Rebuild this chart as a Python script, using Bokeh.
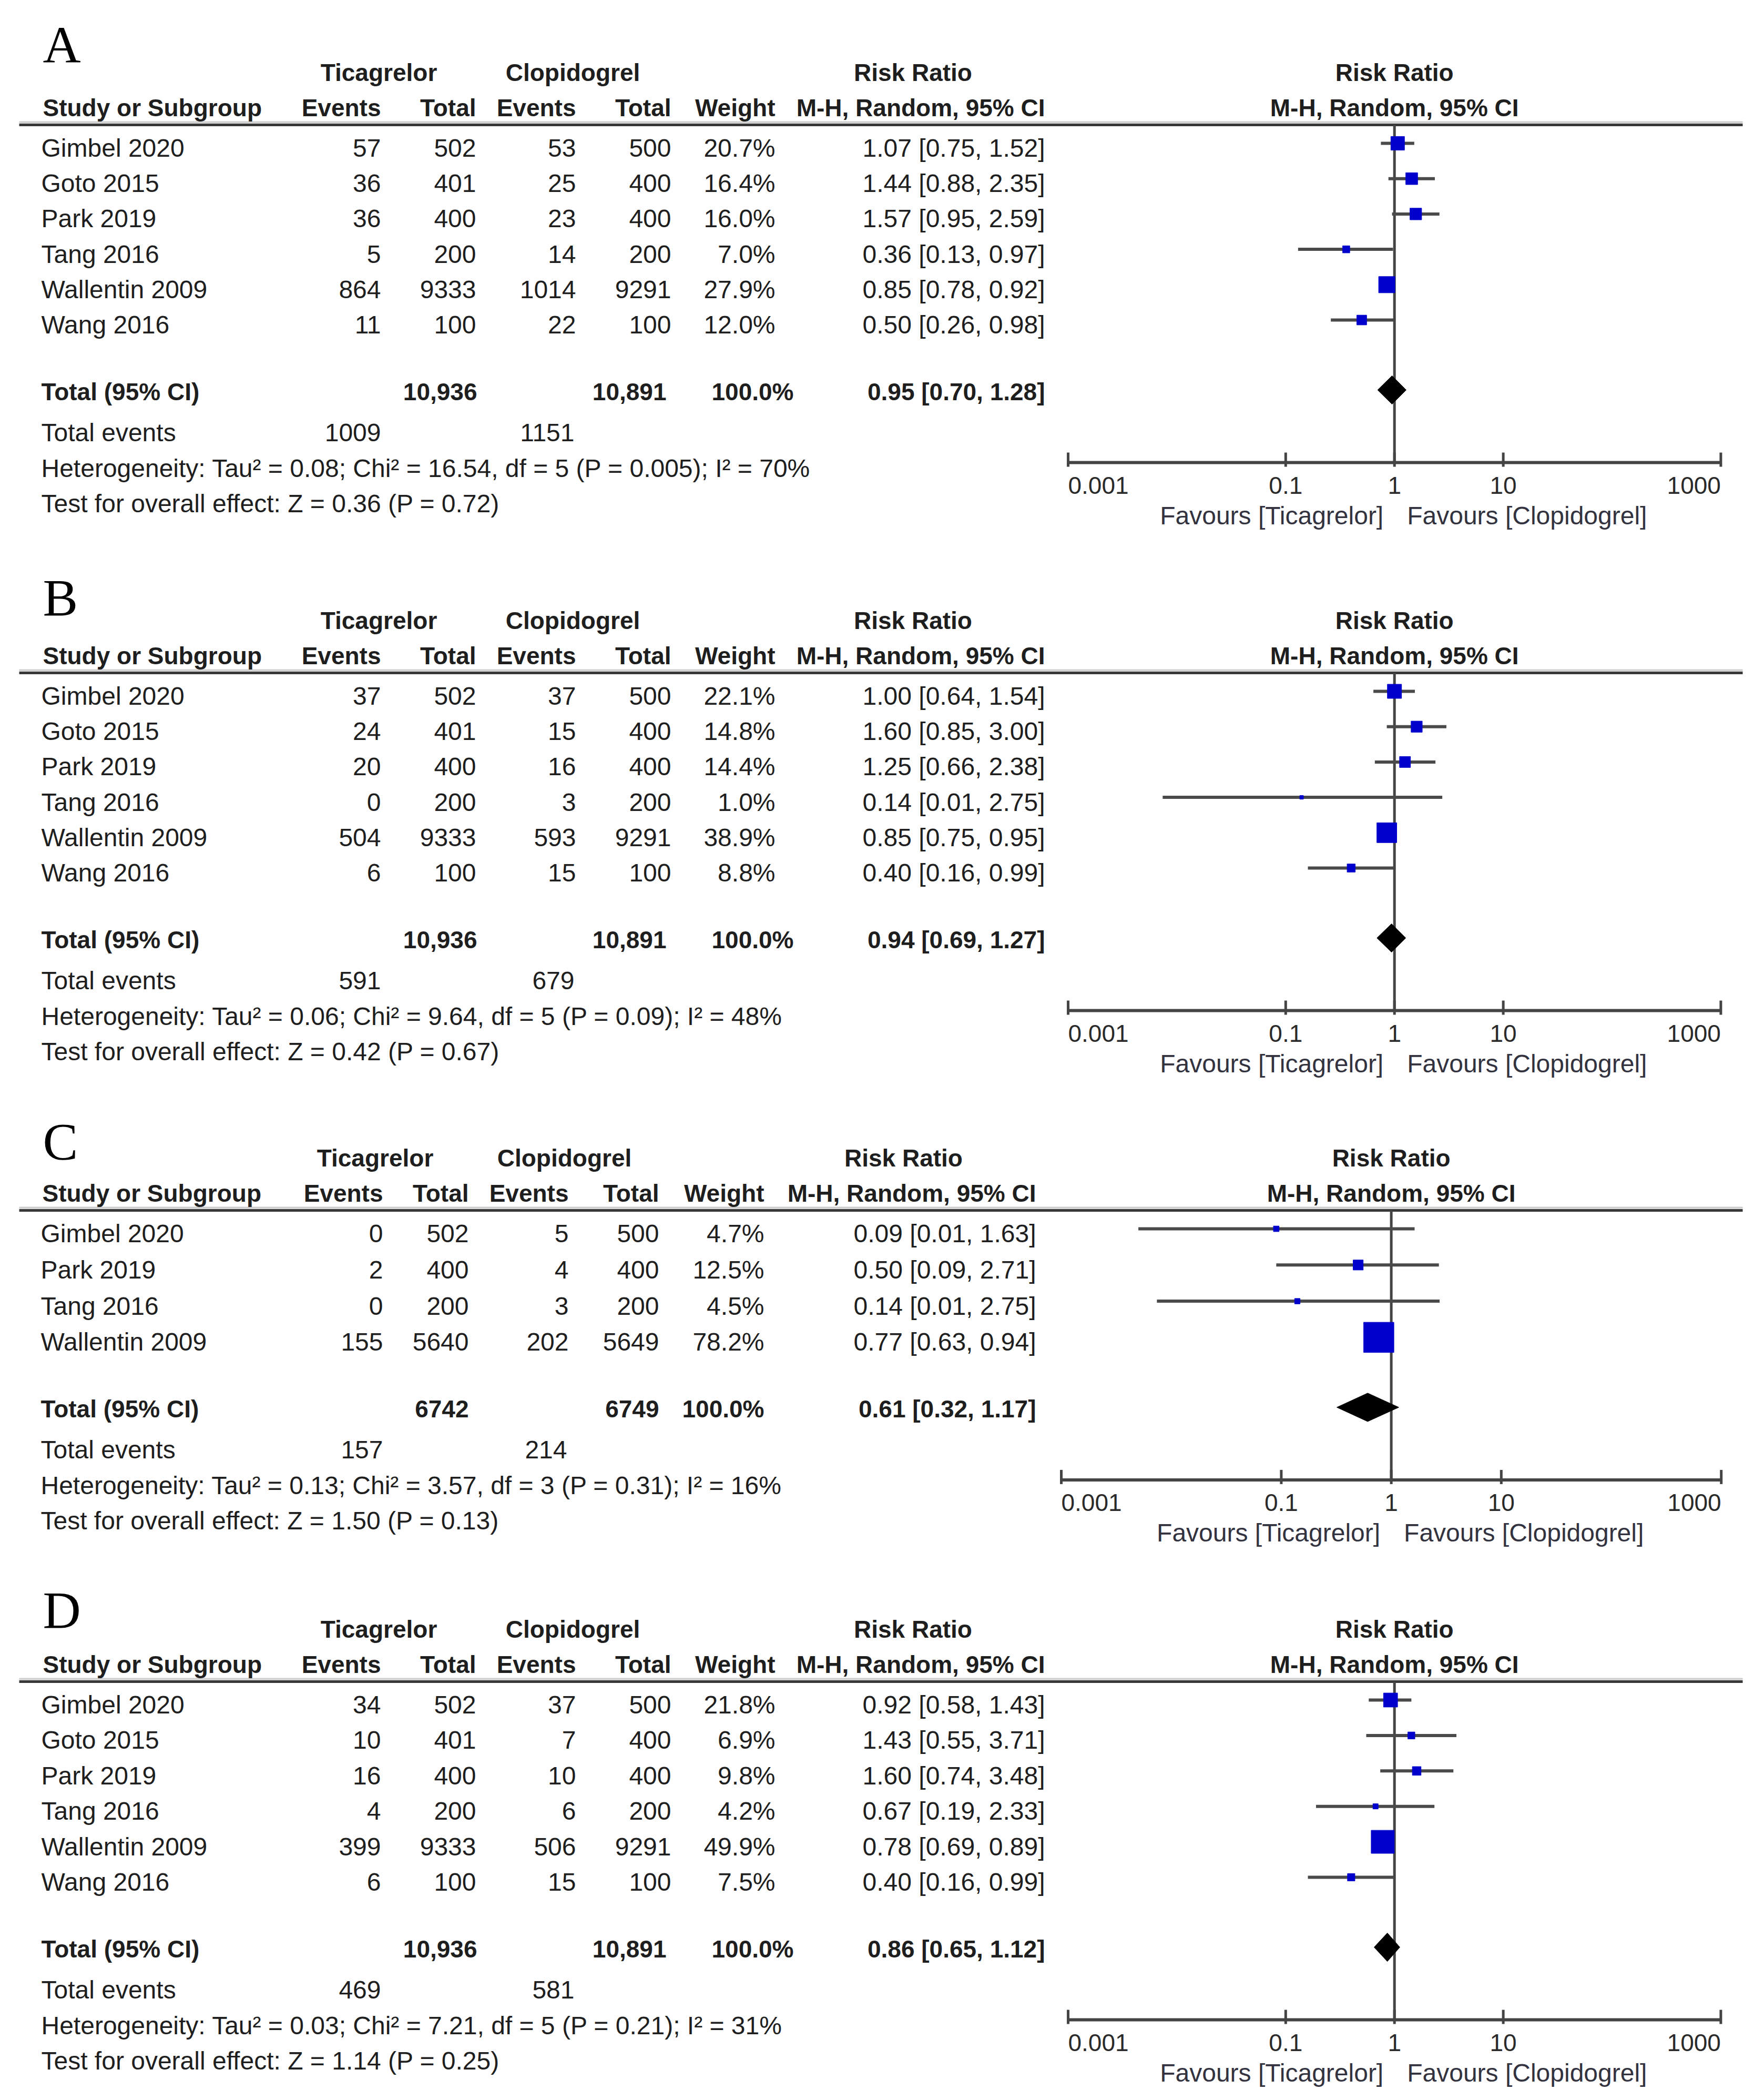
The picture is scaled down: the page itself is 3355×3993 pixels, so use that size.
import math
from bokeh.plotting import figure
from bokeh.models import Range1d, LogScale, ColumnDataSource
from bokeh.core.properties import value
from bokeh.embed import file_html
from bokeh.resources import INLINE

# ---------------- data ----------------
panel_letters = ["A", "B", "C", "D"]

studies_A = ["Gimbel 2020", "Goto 2015", "Park 2019", "Tang 2016", "Wallentin 2009", "Wang 2016"]
tic_events_A = [57, 36, 36, 5, 864, 11]
tic_total_A = [502, 401, 400, 200, 9333, 100]
clo_events_A = [53, 25, 23, 14, 1014, 22]
clo_total_A = [500, 400, 400, 200, 9291, 100]
weight_A = [20.7, 16.4, 16.0, 7.0, 27.9, 12.0]
rr_A = [1.07, 1.44, 1.57, 0.36, 0.85, 0.50]
lo_A = [0.75, 0.88, 0.95, 0.13, 0.78, 0.26]
hi_A = [1.52, 2.35, 2.59, 0.97, 0.92, 0.98]
total_n_A = [10936, 10891]
total_weight_A = 100.0
total_rr_A = [0.95, 0.70, 1.28]
total_events_A = [1009, 1151]
het_A = "Heterogeneity: Tau² = 0.08; Chi² = 16.54, df = 5 (P = 0.005); I² = 70%"
test_A = "Test for overall effect: Z = 0.36 (P = 0.72)"

studies_B = ["Gimbel 2020", "Goto 2015", "Park 2019", "Tang 2016", "Wallentin 2009", "Wang 2016"]
tic_events_B = [37, 24, 20, 0, 504, 6]
tic_total_B = [502, 401, 400, 200, 9333, 100]
clo_events_B = [37, 15, 16, 3, 593, 15]
clo_total_B = [500, 400, 400, 200, 9291, 100]
weight_B = [22.1, 14.8, 14.4, 1.0, 38.9, 8.8]
rr_B = [1.00, 1.60, 1.25, 0.14, 0.85, 0.40]
lo_B = [0.64, 0.85, 0.66, 0.0074, 0.75, 0.16]
hi_B = [1.54, 3.00, 2.38, 2.75, 0.95, 0.99]
total_n_B = [10936, 10891]
total_weight_B = 100.0
total_rr_B = [0.94, 0.69, 1.27]
total_events_B = [591, 679]
het_B = "Heterogeneity: Tau² = 0.06; Chi² = 9.64, df = 5 (P = 0.09); I² = 48%"
test_B = "Test for overall effect: Z = 0.42 (P = 0.67)"

studies_C = ["Gimbel 2020", "Park 2019", "Tang 2016", "Wallentin 2009"]
tic_events_C = [0, 2, 0, 155]
tic_total_C = [502, 400, 200, 5640]
clo_events_C = [5, 4, 3, 202]
clo_total_C = [500, 400, 200, 5649]
weight_C = [4.7, 12.5, 4.5, 78.2]
rr_C = [0.09, 0.50, 0.14, 0.77]
lo_C = [0.00502, 0.09, 0.0074, 0.63]
hi_C = [1.63, 2.71, 2.75, 0.94]
total_n_C = [6742, 6749]
total_weight_C = 100.0
total_rr_C = [0.61, 0.32, 1.17]
total_events_C = [157, 214]
het_C = "Heterogeneity: Tau² = 0.13; Chi² = 3.57, df = 3 (P = 0.31); I² = 16%"
test_C = "Test for overall effect: Z = 1.50 (P = 0.13)"

studies_D = ["Gimbel 2020", "Goto 2015", "Park 2019", "Tang 2016", "Wallentin 2009", "Wang 2016"]
tic_events_D = [34, 10, 16, 4, 399, 6]
tic_total_D = [502, 401, 400, 200, 9333, 100]
clo_events_D = [37, 7, 10, 6, 506, 15]
clo_total_D = [500, 400, 400, 200, 9291, 100]
weight_D = [21.8, 6.9, 9.8, 4.2, 49.9, 7.5]
rr_D = [0.92, 1.43, 1.60, 0.67, 0.78, 0.40]
lo_D = [0.58, 0.55, 0.74, 0.19, 0.69, 0.16]
hi_D = [1.43, 3.71, 3.48, 2.33, 0.89, 0.99]
total_n_D = [10936, 10891]
total_weight_D = 100.0
total_rr_D = [0.86, 0.65, 1.12]
total_events_D = [469, 581]
het_D = "Heterogeneity: Tau² = 0.03; Chi² = 7.21, df = 5 (P = 0.21); I² = 31%"
test_D = "Test for overall effect: Z = 1.14 (P = 0.25)"

group_labels = ["Ticagrelor", "Clopidogrel", "Risk Ratio"]
column_labels = ["Study or Subgroup", "Events", "Total", "Events", "Total", "Weight", "M-H, Random, 95% CI"]
total_row_label = "Total (95% CI)"
total_events_label = "Total events"
axis_ticks = [0.001, 0.1, 1, 10, 1000]
axis_tick_labels = ["0.001", "0.1", "1", "10", "1000"]
favours_labels = ["Favours [Ticagrelor]", "Favours [Clopidogrel]"]

panels_data = [
    (studies_A, tic_events_A, tic_total_A, clo_events_A, clo_total_A, weight_A, rr_A, lo_A, hi_A,
     total_n_A, total_weight_A, total_rr_A, total_events_A, het_A, test_A),
    (studies_B, tic_events_B, tic_total_B, clo_events_B, clo_total_B, weight_B, rr_B, lo_B, hi_B,
     total_n_B, total_weight_B, total_rr_B, total_events_B, het_B, test_B),
    (studies_C, tic_events_C, tic_total_C, clo_events_C, clo_total_C, weight_C, rr_C, lo_C, hi_C,
     total_n_C, total_weight_C, total_rr_C, total_events_C, het_C, test_C),
    (studies_D, tic_events_D, tic_total_D, clo_events_D, clo_total_D, weight_D, rr_D, lo_D, hi_D,
     total_n_D, total_weight_D, total_rr_D, total_events_D, het_D, test_D),
]

# ---------------- layout (positions in image pixels) ----------------
W, H = 3339, 3977
X0, Y0 = 4, 1   # image coordinate shown at the top-left corner of the canvas
cols_std = dict(name=82, head_name=85, ev1=728, tot1=909, ev2=1099, tot2=1280, wt=1478, ci=1991,
                ttot1=911, ttot2=1271, twt=1513, tic_c=724, clo_c=1093, rr_c=1740, rng="rr")
cols_c = dict(name=81, head_name=84, ev1=732, tot1=895, ev2=1085, tot2=1257, wt=1457, ci=1974,
              ttot1=895, ttot2=1257, twt=1457, tic_c=717, clo_c=1077, rr_c=1722, rng="rrc")
panel_layout = [
    dict(label_y=86, line_y=238, sp=67.2, cols=cols_std),
    dict(label_y=1137, line_y=1280, sp=67.2, cols=cols_std),
    dict(label_y=2171, line_y=2302, sp=68.8, cols=cols_c),
    dict(label_y=3062, line_y=3198, sp=67.4, cols=cols_std),
]


def log_range(x0, dec):
    lo = 10 ** (-3 + (X0 - x0) / dec)
    hi = 10 ** (-3 + (X0 + W - x0) / dec)
    return Range1d(lo, hi)


p = figure(width=W, height=H, x_range=Range1d(X0, X0 + W), y_range=Range1d(Y0 + H, Y0),
           x_axis_type=None, y_axis_type=None, output_backend="svg",
           toolbar_location=None, min_border=0)
p.grid.visible = False
p.outline_line_color = None
p.background_fill_color = "white"
p.extra_x_ranges = {"rr": log_range(2035, 206.9), "rrc": log_range(2022, 209.2)}
p.extra_x_scales = {"rr": LogScale(), "rrc": LogScale()}

TXT = "#1e1e1e"
texts = {}


def add_text(x, y, t, align="left", bold=False, size="48px", font="Liberation Sans",
             color=TXT, rng="default", x_off=0):
    key = (align, bold, size, font, color, rng, x_off)
    d = texts.setdefault(key, dict(x=[], y=[], t=[]))
    d["x"].append(x)
    d["y"].append(y)
    d["t"].append(t)


def fmt_n(n):
    return f"{n:,}" if n >= 10000 else str(n)


lines_lin = dict(x0=[], x1=[], y0=[], y1=[])
shade_lin = dict(x0=[], x1=[], y0=[], y1=[])
seg = {"rr": dict(x0=[], x1=[], y0=[], y1=[], w=[]), "rrc": dict(x0=[], x1=[], y0=[], y1=[], w=[])}
ci = {"rr": dict(x0=[], x1=[], y=[]), "rrc": dict(x0=[], x1=[], y=[])}
sq = {"rr": dict(x=[], y=[], s=[]), "rrc": dict(x=[], y=[], s=[])}
dia = {"rr": dict(xs=[], ys=[]), "rrc": dict(xs=[], ys=[])}

for k, (lab, lay, dat) in enumerate(zip(panel_letters, panel_layout, panels_data)):
    (studies, te, tt, ce, ct, wt, rr, lo, hi, tn, twt, trr, tev, het, test) = dat
    c = lay["cols"]
    rng = c["rng"]
    ly = lay["line_y"]
    h1, h2 = ly - 100, ly - 33
    rows = [ly + 44 + i * lay["sp"] for i in range(len(studies))]
    y_tot = rows[-1] + 127
    y_tev = y_tot + 78
    y_het = y_tev + 68
    y_test = y_het + 67
    y_axis = y_het - 11

    add_text(85, lay["label_y"], lab, size="100px", font="Liberation Serif", color="black")

    # headers
    add_text(c["tic_c"], h1, group_labels[0], "center", True, "46px")
    add_text(c["clo_c"], h1, group_labels[1], "center", True, "46px")
    add_text(c["rr_c"], h1, group_labels[2], "center", True, "46px")
    add_text(c["head_name"], h2, column_labels[0], "left", True, "46px")
    for key, lbl in zip(["ev1", "tot1", "ev2", "tot2", "wt", "ci"], column_labels[1:]):
        add_text(c[key], h2, lbl, "right", True, "46px")
    add_text(1, h1, group_labels[2], "center", True, "46px", rng=rng)
    add_text(1, h2, column_labels[6], "center", True, "46px", rng=rng)
    lines_lin["x0"].append(40); lines_lin["x1"].append(3318)
    lines_lin["y0"].append(ly); lines_lin["y1"].append(ly)
    shade_lin["x0"].append(40); shade_lin["x1"].append(3318)
    shade_lin["y0"].append(ly - 5); shade_lin["y1"].append(ly - 5)

    # study rows
    for i, s in enumerate(studies):
        y = rows[i]
        add_text(c["name"], y, s)
        add_text(c["ev1"], y, str(te[i]), "right")
        add_text(c["tot1"], y, str(tt[i]), "right")
        add_text(c["ev2"], y, str(ce[i]), "right")
        add_text(c["tot2"], y, str(ct[i]), "right")
        add_text(c["wt"], y, f"{wt[i]:.1f}%", "right")
        add_text(c["ci"], y, f"{rr[i]:.2f} [{lo[i]:.2f}, {hi[i]:.2f}]", "right")
        ci[rng]["x0"].append(lo[i]); ci[rng]["x1"].append(hi[i]); ci[rng]["y"].append(y - 9)
        sq[rng]["x"].append(rr[i]); sq[rng]["y"].append(y - 9)
        sq[rng]["s"].append(max(7.0, 4.2 * wt[i] ** 0.6))

    # totals
    add_text(c["name"], y_tot, total_row_label, "left", True, "46px")
    add_text(c["ttot1"], y_tot, fmt_n(tn[0]), "right", True, "46px")
    add_text(c["ttot2"], y_tot, fmt_n(tn[1]), "right", True, "46px")
    add_text(c["twt"], y_tot, f"{twt:.1f}%", "right", True, "46px")
    add_text(c["ci"], y_tot, f"{trr[0]:.2f} [{trr[1]:.2f}, {trr[2]:.2f}]", "right", True, "46px")
    yd = y_tot - 3
    dia[rng]["xs"].append([trr[1], trr[0], trr[2], trr[0]])
    dia[rng]["ys"].append([yd, yd - 27, yd, yd + 27])

    add_text(c["name"], y_tev, total_events_label)
    add_text(c["ev1"], y_tev, str(tev[0]), "right")
    add_text(c["ev2"] - 3, y_tev, str(tev[1]), "right")
    add_text(c["name"], y_het, het)
    add_text(c["name"], y_test, test)

    # forest axis
    seg[rng]["x0"].append(1); seg[rng]["x1"].append(1)
    seg[rng]["y0"].append(ly); seg[rng]["y1"].append(y_axis); seg[rng]["w"].append(5)
    seg[rng]["x0"].append(axis_ticks[0]); seg[rng]["x1"].append(axis_ticks[-1])
    seg[rng]["y0"].append(y_axis); seg[rng]["y1"].append(y_axis); seg[rng]["w"].append(6)
    for j, (tv, tl) in enumerate(zip(axis_ticks, axis_tick_labels)):
        seg[rng]["x0"].append(tv); seg[rng]["x1"].append(tv)
        seg[rng]["y0"].append(y_axis - 19); seg[rng]["y1"].append(y_axis + 8); seg[rng]["w"].append(5)
        al = "left" if j == 0 else ("right" if j == len(axis_ticks) - 1 else "center")
        add_text(tv, y_axis + 43, tl, al, size="46px", color="#2a2a2a", rng=rng)
    add_text(1, y_axis + 101, favours_labels[0], "right", color="#33333f", rng=rng, x_off=-21)
    add_text(1, y_axis + 101, favours_labels[1], "left", color="#33333f", rng=rng, x_off=24)

# ---------------- draw ----------------
p.segment(x0="x0", x1="x1", y0="y0", y1="y1", source=ColumnDataSource(shade_lin),
          line_color="#cfcfcf", line_width=4)
p.segment(x0="x0", x1="x1", y0="y0", y1="y1", source=ColumnDataSource(lines_lin),
          line_color="#383838", line_width=5)
for rng in ("rr", "rrc"):
    p.segment(x0="x0", x1="x1", y0="y0", y1="y1", line_width="w",
              source=ColumnDataSource(seg[rng]), line_color="#444444", x_range_name=rng)
    p.segment(x0="x0", x1="x1", y0="y", y1="y", source=ColumnDataSource(ci[rng]),
              line_color="#4a4a4a", line_width=6, x_range_name=rng)
    p.scatter(x="x", y="y", size="s", marker="square", source=ColumnDataSource(sq[rng]),
              fill_color="#0000CC", line_color="#0000CC", x_range_name=rng)
    p.patches(xs="xs", ys="ys", source=ColumnDataSource(dia[rng]),
              fill_color="black", line_color="black", x_range_name=rng)

for (align, bold, size, font, color, rng, x_off), d in texts.items():
    kw = {} if rng == "default" else dict(x_range_name=rng)
    p.text(x="x", y="y", text="t", source=ColumnDataSource(dict(x=d["x"], y=d["y"], t=d["t"])),
           text_align=align, text_baseline="middle", text_font=value(font),
           text_font_size=size, text_font_style="bold" if bold else "normal",
           text_color=color, x_offset=x_off, **kw)

open("out.html", "w").write(file_html(p, INLINE))
